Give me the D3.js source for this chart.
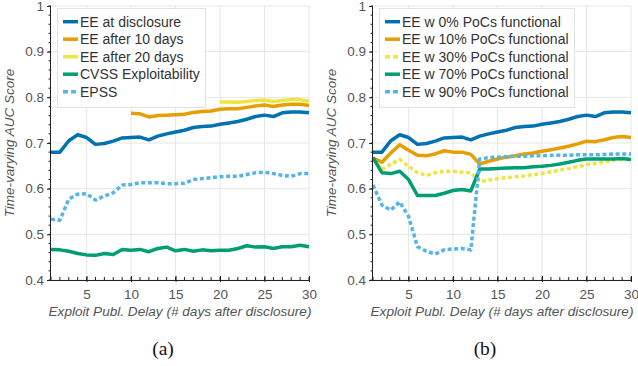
<!DOCTYPE html>
<html><head><meta charset="utf-8">
<script src="https://cdn.jsdelivr.net/npm/d3@7"></script>
<style>
body{margin:0;background:#fff}
svg{display:block}
</style>
</head><body>
<svg id="chart" width="638" height="366"></svg>
<script>
// Exploit publication delay (days after disclosure)
const days = [1,2,3,4,5,6,7,8,9,10,11,12,13,14,15,16,17,18,19,20,21,22,23,24,25,26,27,28,29,30];
const xTickValues = [5,10,15,20,25,30];
const yTickValues = [0.4,0.5,0.6,0.7,0.8,0.9,1];

// Panel (a)
const eeAtDisclosure = [0.680,0.680,0.705,0.718,0.712,0.697,0.699,0.704,0.711,0.712,0.713,0.707,0.715,0.720,0.724,0.728,0.734,0.736,0.737,0.741,0.744,0.747,0.752,0.758,0.761,0.758,0.766,0.768,0.768,0.766];
const eeAfter10Days = [null,null,null,null,null,null,null,null,null,0.765,0.764,0.757,0.760,0.761,0.762,0.763,0.767,0.769,0.770,0.774,0.775,0.775,0.778,0.781,0.783,0.780,0.783,0.785,0.785,0.782];
const eeAfter20Days = [null,null,null,null,null,null,null,null,null,null,null,null,null,null,null,null,null,null,null,0.790,0.790,0.789,0.791,0.793,0.794,0.791,0.793,0.795,0.795,0.791];
const cvssExploitability = [0.467,0.466,0.463,0.458,0.455,0.454,0.458,0.456,0.467,0.465,0.467,0.462,0.469,0.472,0.464,0.467,0.463,0.466,0.464,0.465,0.465,0.469,0.475,0.472,0.473,0.469,0.473,0.473,0.476,0.473];
const epss = [0.533,0.531,0.577,0.588,0.589,0.575,0.584,0.591,0.608,0.609,0.613,0.613,0.613,0.611,0.611,0.612,0.620,0.622,0.624,0.626,0.627,0.627,0.631,0.635,0.636,0.633,0.629,0.627,0.633,0.633];

// Panel (b)
const ee0Functional = eeAtDisclosure;
const ee10Functional = [0.667,0.658,0.678,0.696,0.684,0.673,0.672,0.676,0.683,0.680,0.680,0.675,0.654,0.660,0.665,0.669,0.672,0.676,0.678,0.682,0.685,0.689,0.693,0.698,0.704,0.703,0.707,0.712,0.714,0.712];
const ee30Functional = [0.664,0.642,0.653,0.664,0.649,0.635,0.629,0.635,0.638,0.638,0.636,0.635,0.615,0.619,0.622,0.624,0.626,0.628,0.631,0.633,0.637,0.641,0.644,0.648,0.653,0.655,0.658,0.663,0.664,0.663];
const ee70Functional = [0.668,0.635,0.633,0.638,0.620,0.585,0.585,0.585,0.590,0.596,0.598,0.595,0.643,0.643,0.644,0.645,0.646,0.646,0.648,0.649,0.651,0.654,0.658,0.662,0.665,0.665,0.665,0.665,0.666,0.664];
const ee90Functional = [0.608,0.564,0.553,0.571,0.539,0.473,0.463,0.457,0.466,0.468,0.469,0.466,0.665,0.668,0.669,0.670,0.671,0.671,0.672,0.672,0.673,0.673,0.673,0.674,0.674,0.674,0.675,0.676,0.676,0.676];

const BLUE = "#0072B2", ORANGE = "#E69F00", YELLOW = "#F0E442", GREEN = "#009E73", SKY = "#56B4E9";
const SANS = '"Liberation Sans",Arial,sans-serif';
const SERIF = '"Liberation Serif","Times New Roman",serif';

const panels = [
  {
    x0: 51, x1: 309, tag: "(a)", tagX: 163,
    legend: {x: 57, w: 148},
    series: [
      {name: "EE at disclosure", values: eeAtDisclosure, color: BLUE, dotted: false},
      {name: "EE after 10 days", values: eeAfter10Days, color: ORANGE, dotted: false},
      {name: "EE after 20 days", values: eeAfter20Days, color: YELLOW, dotted: false},
      {name: "CVSS Exploitability", values: cvssExploitability, color: GREEN, dotted: false},
      {name: "EPSS", values: epss, color: SKY, dotted: true}
    ]
  },
  {
    x0: 373, x1: 631, tag: "(b)", tagX: 485,
    legend: {x: 379, w: 195},
    series: [
      {name: "EE w 0% PoCs functional", values: ee0Functional, color: BLUE, dotted: false},
      {name: "EE w 10% PoCs functional", values: ee10Functional, color: ORANGE, dotted: false},
      {name: "EE w 30% PoCs functional", values: ee30Functional, color: YELLOW, dotted: true},
      {name: "EE w 70% PoCs functional", values: ee70Functional, color: GREEN, dotted: false},
      {name: "EE w 90% PoCs functional", values: ee90Functional, color: SKY, dotted: true}
    ]
  }
];

const svg = d3.select("#chart");
const yTop = 6, yBottom = 280;
const LINE_W = 3.5, DASH = "4,2.6";

panels.forEach(p => {
  const x = d3.scaleLinear().domain([1, 30]).range([p.x0, p.x1]);
  const y = d3.scaleLinear().domain([0.4, 1]).range([yBottom, yTop]);
  const g = svg.append("g");

  // grid
  g.append("g").selectAll("line").data(xTickValues).join("line")
    .attr("x1", d => x(d)).attr("x2", d => x(d))
    .attr("y1", yTop).attr("y2", yBottom)
    .attr("stroke", "#e6e6e6").attr("stroke-width", 1);
  g.append("g").selectAll("line").data(yTickValues).join("line")
    .attr("x1", p.x0).attr("x2", p.x1)
    .attr("y1", d => y(d)).attr("y2", d => y(d))
    .attr("stroke", "#e6e6e6").attr("stroke-width", 1);

  // series lines
  const line = d3.line()
    .defined(d => d.v != null)
    .x(d => x(d.day)).y(d => y(d.v));
  p.series.forEach(s => {
    const pts = days.map((day, i) => ({day, v: s.values[i]}));
    g.append("path").datum(pts)
      .attr("d", line)
      .attr("fill", "none")
      .attr("stroke", s.color)
      .attr("stroke-width", LINE_W)
      .attr("stroke-linejoin", "round")
      .attr("stroke-dasharray", s.dotted ? DASH : null);
  });

  // legend
  const lg = g.append("g");
  lg.append("rect")
    .attr("x", p.legend.x + 0.5).attr("y", 8.5)
    .attr("width", p.legend.w).attr("height", 99)
    .attr("fill", "#fff").attr("fill-opacity", 0.9)
    .attr("stroke", "#e2e2e2").attr("stroke-width", 1);
  p.series.forEach((s, i) => {
    const cy = 21.7 + i * 17.5;
    lg.append("line")
      .attr("x1", p.legend.x + 6).attr("x2", p.legend.x + 21)
      .attr("y1", cy).attr("y2", cy)
      .attr("stroke", s.color).attr("stroke-width", LINE_W)
      .attr("stroke-dasharray", s.dotted ? "5,3" : null);
    lg.append("text")
      .attr("x", p.legend.x + 23).attr("y", cy)
      .attr("dy", "0.36em")
      .style("font-family", SANS).style("font-size", "14px")
      .attr("fill", "#333")
      .text(s.name);
  });

  // x axis with minor day ticks
  const xAxisG = g.append("g").attr("transform", `translate(0,${yBottom})`);
  xAxisG.append("g").selectAll("line").data(days).join("line")
    .attr("x1", d => x(d)).attr("x2", d => x(d))
    .attr("y1", -3).attr("y2", 0)
    .attr("stroke", "#222").attr("stroke-width", 1);
  const xAxis = d3.axisBottom(x).tickValues(xTickValues).tickSize(3).tickPadding(6).tickFormat(d3.format("d"));
  xAxisG.call(xAxis);
  xAxisG.select(".domain").attr("d", `M${p.x0},0.5H${p.x1}`).attr("stroke", "#222");
  xAxisG.selectAll(".tick line").attr("y1", -4).attr("y2", 2).attr("stroke", "#222");
  xAxisG.selectAll(".tick text").attr("fill", "#555")
    .style("font-family", SANS).style("font-size", "13.5px");

  // y axis with minor ticks every 0.02
  const yAxisG = g.append("g").attr("transform", `translate(${p.x0},0)`);
  const yMinor = d3.range(0, 31).map(i => 0.4 + i * 0.02);
  yAxisG.append("g").selectAll("line").data(yMinor).join("line")
    .attr("x1", -2.5).attr("x2", 0)
    .attr("y1", d => y(d)).attr("y2", d => y(d))
    .attr("stroke", "#222").attr("stroke-width", 1);
  const yAxis = d3.axisLeft(y).tickValues(yTickValues).tickSize(4).tickPadding(3)
    .tickFormat(d => d === 1 ? "1" : d3.format(".1f")(d));
  yAxisG.call(yAxis);
  yAxisG.select(".domain").attr("d", `M-0.5,${yTop}V${yBottom}`).attr("stroke", "#222");
  yAxisG.selectAll(".tick line").attr("stroke", "#222");
  yAxisG.selectAll(".tick text").attr("fill", "#555")
    .style("font-family", SANS).style("font-size", "13.5px");

  // axis titles
  g.append("text")
    .attr("x", (p.x0 + p.x1) / 2).attr("y", 316)
    .attr("text-anchor", "middle")
    .style("font-family", SANS).style("font-size", "13.6px").style("font-style", "italic")
    .attr("fill", "#555")
    .text("Exploit Publ. Delay (# days after disclosure)");
  g.append("text")
    .attr("transform", `translate(${p.x0 - 37},${(yTop + yBottom) / 2}) rotate(-90)`)
    .attr("text-anchor", "middle")
    .style("font-family", SANS).style("font-size", "13.5px").style("font-style", "italic")
    .attr("fill", "#555")
    .text("Time-varying AUC Score");

  // sub-figure tag
  g.append("text")
    .attr("x", p.tagX).attr("y", 354.5)
    .attr("text-anchor", "middle")
    .style("font-family", SERIF).style("font-size", "19.5px")
    .attr("fill", "#111")
    .text(p.tag);
});
</script>
</body></html>
